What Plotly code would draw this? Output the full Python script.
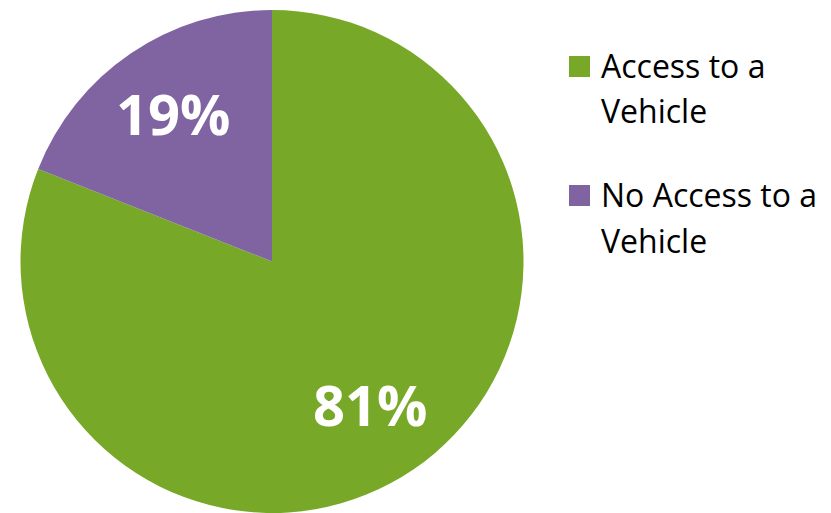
import math
import plotly.graph_objects as go

# Share of households by vehicle access
labels = ["Access to a<br>Vehicle", "No Access to a<br>Vehicle"]
values = [81, 19]
colors = ["#78A828", "#8064A2"]

W, H = 831, 513
FONT = "Open Sans"

# Pie placement in pixels (centre and radius)
PX0, PX1, PY1 = 20, 524, 503
cx = (PX0 + PX1) / 2
r = min(PX1 - PX0, PY1) / 2
cy = r

fig = go.Figure(
    go.Pie(
        labels=labels,
        values=values,
        marker=dict(colors=colors, line=dict(width=0)),
        sort=False,
        direction="clockwise",
        rotation=0,
        textinfo="none",
        showlegend=False,
        domain=dict(x=[PX0 / W, PX1 / W], y=[0, PY1 / H]),
    )
)

# Percentage labels placed along each slice's middle angle
total = sum(values)
start = 0.0
for v in values:
    frac = v / total
    mid = (start + frac / 2) * 2 * math.pi  # clockwise from 12 o'clock
    start += frac
    lx = cx + 0.70 * r * math.sin(mid)
    ly = cy - 0.70 * r * math.cos(mid)
    fig.add_annotation(
        text=f"{round(100 * frac)}%", xref="paper", yref="paper",
        x=lx / W, y=1 - ly / H, xanchor="center", yanchor="middle",
        yshift=-7,  # centre the digits rather than the full line box
        showarrow=False,
        font=dict(family=FONT, size=56, color="white", weight="bold"),
    )

# Legend drawn as coloured squares with wrapped captions
sq = 21
legend_rows = [(56, [65, 110]), (185, [195, 240])]
for (top, line_ys), label, color in zip(legend_rows, labels, colors):
    fig.add_shape(
        type="rect", xref="paper", yref="paper",
        x0=569 / W, x1=(569 + sq) / W,
        y0=1 - (top + sq) / H, y1=1 - top / H,
        fillcolor=color, line=dict(width=0),
    )
    for line, yc in zip(label.split("<br>"), line_ys):
        fig.add_annotation(
            text=line, xref="paper", yref="paper",
            x=599 / W, y=1 - yc / H, xanchor="left", yanchor="middle",
            showarrow=False,
            font=dict(family=FONT, size=32, color="black"),
        )

fig.update_layout(
    width=W, height=H,
    margin=dict(l=0, r=0, t=0, b=0),
    paper_bgcolor="white",
    plot_bgcolor="white",
)

fig.write_html("out.html")
